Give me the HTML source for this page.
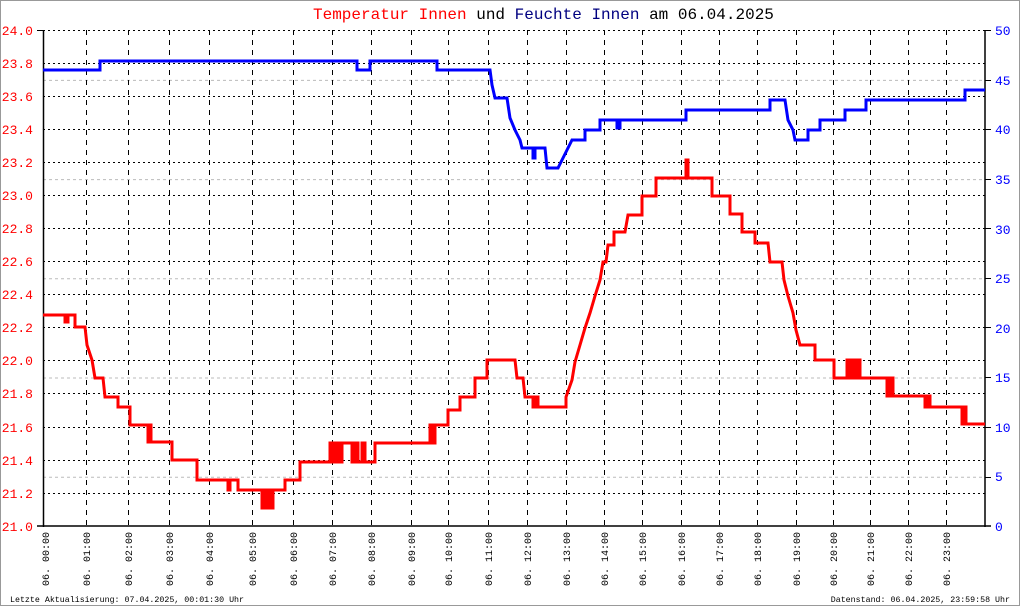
<!DOCTYPE html>
<html><head><meta charset="utf-8"><style>
html,body{margin:0;padding:0;background:#fff}
svg{display:block}
text{font-family:"Liberation Mono","DejaVu Sans Mono",monospace}
</style></head><body>
<svg width="1020" height="606" viewBox="0 0 1020 606" xmlns="http://www.w3.org/2000/svg">
<rect x="0" y="0" width="1020" height="606" fill="#fff" stroke="#999" stroke-width="2"/>
<text x="313" y="19" font-size="16"><tspan fill="#f00">Temperatur Innen</tspan><tspan fill="#000"> und </tspan><tspan fill="#000080">Feuchte Innen</tspan><tspan fill="#000"> am 06.04.2025</tspan></text>
<g stroke="#bbb" stroke-width="1" stroke-dasharray="3,3">
<line x1="43" x2="985" y1="80.4" y2="80.4"/><line x1="43" x2="985" y1="179.6" y2="179.6"/><line x1="43" x2="985" y1="278.8" y2="278.8"/><line x1="43" x2="985" y1="378" y2="378"/><line x1="43" x2="985" y1="477.2" y2="477.2"/>
</g>
<g stroke="#000" stroke-width="1" stroke-dasharray="2,3">
<line x1="43" x2="985" y1="30.5" y2="30.5"/><line x1="43" x2="985" y1="63.5" y2="63.5"/><line x1="43" x2="985" y1="96.5" y2="96.5"/><line x1="43" x2="985" y1="129.5" y2="129.5"/><line x1="43" x2="985" y1="162.5" y2="162.5"/><line x1="43" x2="985" y1="195.5" y2="195.5"/><line x1="43" x2="985" y1="228.5" y2="228.5"/><line x1="43" x2="985" y1="261.5" y2="261.5"/><line x1="43" x2="985" y1="294.5" y2="294.5"/><line x1="43" x2="985" y1="327.5" y2="327.5"/><line x1="43" x2="985" y1="360.5" y2="360.5"/><line x1="43" x2="985" y1="393.5" y2="393.5"/><line x1="43" x2="985" y1="427.5" y2="427.5"/><line x1="43" x2="985" y1="460.5" y2="460.5"/><line x1="43" x2="985" y1="493.5" y2="493.5"/>
</g>
<g stroke="#000" stroke-width="1" stroke-dasharray="5,5">
<line y1="30" y2="526" x1="86.5" x2="86.5"/><line y1="30" y2="526" x1="128.5" x2="128.5"/><line y1="30" y2="526" x1="169.5" x2="169.5"/><line y1="30" y2="526" x1="209.5" x2="209.5"/><line y1="30" y2="526" x1="252.5" x2="252.5"/><line y1="30" y2="526" x1="293.5" x2="293.5"/><line y1="30" y2="526" x1="332.5" x2="332.5"/><line y1="30" y2="526" x1="371.5" x2="371.5"/><line y1="30" y2="526" x1="411.5" x2="411.5"/><line y1="30" y2="526" x1="448.5" x2="448.5"/><line y1="30" y2="526" x1="488.5" x2="488.5"/><line y1="30" y2="526" x1="527.5" x2="527.5"/><line y1="30" y2="526" x1="566.5" x2="566.5"/><line y1="30" y2="526" x1="604.5" x2="604.5"/><line y1="30" y2="526" x1="642.5" x2="642.5"/><line y1="30" y2="526" x1="681.5" x2="681.5"/><line y1="30" y2="526" x1="719.5" x2="719.5"/><line y1="30" y2="526" x1="757.5" x2="757.5"/><line y1="30" y2="526" x1="796.5" x2="796.5"/><line y1="30" y2="526" x1="833.5" x2="833.5"/><line y1="30" y2="526" x1="870.5" x2="870.5"/><line y1="30" y2="526" x1="908.5" x2="908.5"/><line y1="30" y2="526" x1="946.5" x2="946.5"/>
</g>
<g stroke="#000" stroke-width="1.5">
<line x1="43.5" y1="30" x2="43.5" y2="527"/><line x1="985" y1="30" x2="985" y2="527"/><line x1="37" y1="526" x2="991" y2="526"/>
</g>
<path fill="none" stroke="#00f" stroke-width="3" d="M43 70H100V61H357V70H370V61H437V70H490L492 85L495 98H507L510 118L515 130L520 140L522 148H533V158H535V148H545L547 168H558L562 160L567 150L572 140H585V130H600V120H617V128H620V120H686V110H770V100H785L788 120L793 130L795 140H808V130H820V120H845V110H866V100H965V90H985"/>
<path fill="none" stroke="#f00" stroke-width="3" d="M43 315H65V322H68V315H75V327H85L87 345L92 360L95 378H103L105 397H118V407H130V425H148V442H150V425H151V442H172V460H197V480H228V490H230V480H238V490H262V508H264V490H266V508H268V490H270V508H273V490H285V480H300V462H330V443H333V462H336V443H339V462H342V443H352V462H355V443H358V462H362V443H365V462H375V443H430V425H432V443H435V425H448V410H460V397H475V378H487V360H515L517 378H523L525 397H533V407H535V397H538V407H566V397L572 380L575 362L580 345L585 328L590 313L595 296L600 280L603 262H606L608 245H614V232H625L628 215H642V196H656V178H686V160H688V178H712V196H730V214H742V232H755V243H768L770 262H782L784 280L788 296L793 313L796 330L800 345H815V360H834V378H847V360H849V378H852V360H855V378H858V360H860V378H887V396H890V378H893V396H925V407H927V396H930V407H962V424H964V407H966V424H985"/>
<g font-size="13" fill="#f00" text-anchor="end">
<text x="33" y="35">24.0</text><text x="33" y="68">23.8</text><text x="33" y="101">23.6</text><text x="33" y="134">23.4</text><text x="33" y="167">23.2</text><text x="33" y="200">23.0</text><text x="33" y="233">22.8</text><text x="33" y="266">22.6</text><text x="33" y="299">22.4</text><text x="33" y="332">22.2</text><text x="33" y="365">22.0</text><text x="33" y="398">21.8</text><text x="33" y="432">21.6</text><text x="33" y="465">21.4</text><text x="33" y="498">21.2</text><text x="33" y="531">21.0</text>
</g>
<g font-size="13" fill="#00f">
<text x="995" y="35">50</text><text x="995" y="85">45</text><text x="995" y="134">40</text><text x="995" y="184">35</text><text x="995" y="234">30</text><text x="995" y="283">25</text><text x="995" y="333">20</text><text x="995" y="382">15</text><text x="995" y="432">10</text><text x="995" y="481">5</text><text x="995" y="531">0</text>
</g>
<g stroke="#000" stroke-width="1"><line x1="37" x2="43" y1="30.5" y2="30.5"/><line x1="985" x2="991" y1="30.5" y2="30.5"/><line x1="985" x2="991" y1="80.5" y2="80.5"/><line x1="985" x2="991" y1="129.5" y2="129.5"/><line x1="985" x2="991" y1="179.5" y2="179.5"/><line x1="985" x2="991" y1="228.5" y2="228.5"/><line x1="985" x2="991" y1="278.5" y2="278.5"/><line x1="985" x2="991" y1="327.5" y2="327.5"/><line x1="985" x2="991" y1="377.5" y2="377.5"/><line x1="985" x2="991" y1="427.5" y2="427.5"/><line x1="985" x2="991" y1="477.5" y2="477.5"/></g>
<g font-size="10" fill="#000">
<text transform="translate(49,586) rotate(-90)">06. 00:00</text>
<text transform="translate(90,586) rotate(-90)">06. 01:00</text>
<text transform="translate(132,586) rotate(-90)">06. 02:00</text>
<text transform="translate(173,586) rotate(-90)">06. 03:00</text>
<text transform="translate(213,586) rotate(-90)">06. 04:00</text>
<text transform="translate(256,586) rotate(-90)">06. 05:00</text>
<text transform="translate(297,586) rotate(-90)">06. 06:00</text>
<text transform="translate(336,586) rotate(-90)">06. 07:00</text>
<text transform="translate(375,586) rotate(-90)">06. 08:00</text>
<text transform="translate(415,586) rotate(-90)">06. 09:00</text>
<text transform="translate(452,586) rotate(-90)">06. 10:00</text>
<text transform="translate(492,586) rotate(-90)">06. 11:00</text>
<text transform="translate(531,586) rotate(-90)">06. 12:00</text>
<text transform="translate(570,586) rotate(-90)">06. 13:00</text>
<text transform="translate(608,586) rotate(-90)">06. 14:00</text>
<text transform="translate(646,586) rotate(-90)">06. 15:00</text>
<text transform="translate(685,586) rotate(-90)">06. 16:00</text>
<text transform="translate(723,586) rotate(-90)">06. 17:00</text>
<text transform="translate(761,586) rotate(-90)">06. 18:00</text>
<text transform="translate(800,586) rotate(-90)">06. 19:00</text>
<text transform="translate(837,586) rotate(-90)">06. 20:00</text>
<text transform="translate(874,586) rotate(-90)">06. 21:00</text>
<text transform="translate(912,586) rotate(-90)">06. 22:00</text>
<text transform="translate(950,586) rotate(-90)">06. 23:00</text>
</g>
<text x="10" y="602" font-size="8.3" fill="#000">Letzte Aktualisierung: 07.04.2025, 00:01:30 Uhr</text>
<text x="1010" y="602" font-size="8.3" fill="#000" text-anchor="end">Datenstand: 06.04.2025, 23:59:58 Uhr</text>
</svg>
</body></html>
